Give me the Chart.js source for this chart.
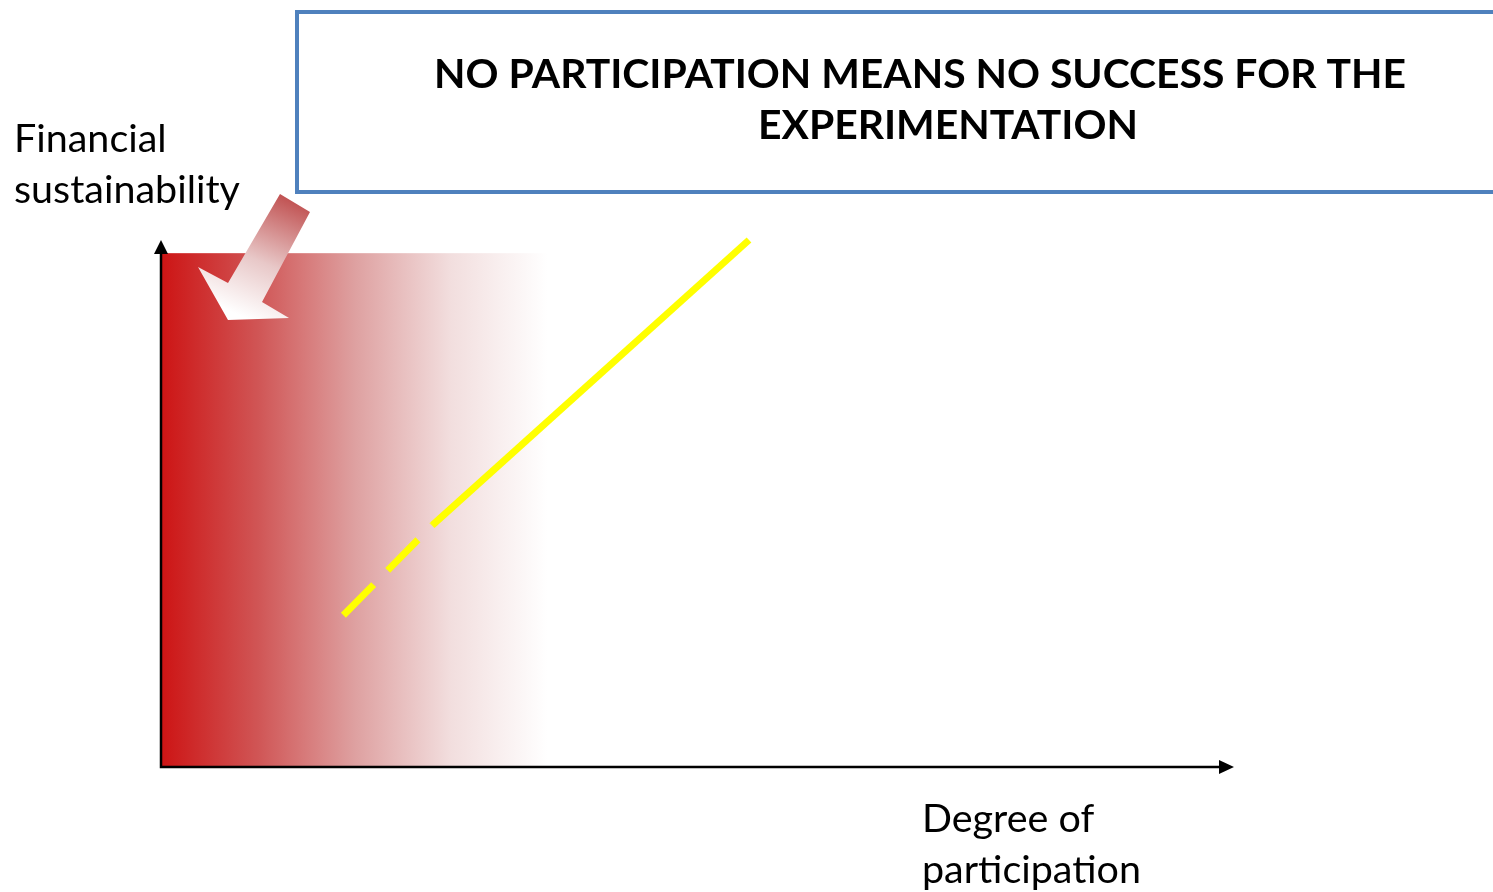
<!DOCTYPE html>
<html>
<head>
<meta charset="utf-8">
<script src="https://cdn.jsdelivr.net/npm/chart.js@4"></script>
<style>
  html, body { margin: 0; padding: 0; background: #fff; }
  .chart-container { position: relative; width: 1493px; height: 892px; }
</style>
</head>
<body>
<div class="chart-container">
  <canvas id="diagram"></canvas>
</div>
<script>
// axis values run 0..100 on both axes
const dashedX = [17.0, 25.3];
const dashedY = [28.8, 45.9];
const solidX = [25.3, 54.8];
const solidY = [45.9, 100];
const zoneX = [0, 36];      // red "no participation" zone
const zoneTop = 97.5;

const titleLines = ['NO PARTICIPATION MEANS NO SUCCESS FOR THE', 'EXPERIMENTATION'];
const yLabel = ['Financial', 'sustainability'];
const xLabel = ['Degree of', 'participation'];

const toPoints = (xs, ys) => xs.map((x, i) => ({ x: x, y: ys[i] }));

// font size that makes text span a given width
function fitFont(ctx, text, width, weight, family) {
  ctx.font = weight + ' 100px ' + family;
  return 100 * width / ctx.measureText(text).width;
}

const zonePlugin = {
  id: 'zone',
  beforeDatasetsDraw(chart) {
    const { ctx, scales: { x, y } } = chart;
    const x0 = x.getPixelForValue(zoneX[0]);
    const x1 = x.getPixelForValue(zoneX[1]);
    const y0 = y.getPixelForValue(zoneTop);
    const y1 = y.getPixelForValue(0);
    const g = ctx.createLinearGradient(x0, 0, x1, 0);
    g.addColorStop(0, 'rgb(205,20,20)');
    g.addColorStop(0.25, 'rgb(208,85,85)');
    g.addColorStop(0.5, 'rgb(222,160,160)');
    g.addColorStop(0.75, 'rgb(242,222,222)');
    g.addColorStop(1, 'rgb(255,255,255)');
    ctx.save();
    ctx.fillStyle = g;
    ctx.fillRect(x0, y0, x1 - x0, y1 - y0);
    ctx.restore();
  },
  afterDatasetsDraw(chart) {
    const { ctx, chartArea: a } = chart;
    ctx.save();
    // axes
    ctx.strokeStyle = '#000';
    ctx.fillStyle = '#000';
    ctx.lineWidth = 2.5;
    ctx.beginPath();
    ctx.moveTo(a.left, a.top + 12);
    ctx.lineTo(a.left, a.bottom);
    ctx.lineTo(a.right - 13, a.bottom);
    ctx.stroke();
    ctx.beginPath();
    ctx.moveTo(a.left, a.top);
    ctx.lineTo(a.left - 7, a.top + 14);
    ctx.lineTo(a.left + 7, a.top + 14);
    ctx.closePath();
    ctx.fill();
    ctx.beginPath();
    ctx.moveTo(a.right, a.bottom);
    ctx.lineTo(a.right - 15, a.bottom - 7);
    ctx.lineTo(a.right - 15, a.bottom + 7);
    ctx.closePath();
    ctx.fill();

    // pointer arrow towards the red zone
    const ox = a.left, oy = a.top;
    const g = ctx.createLinearGradient(ox + 135, oy - 40, ox + 85, oy + 78);
    g.addColorStop(0, 'rgb(192,80,80)');
    g.addColorStop(0.55, 'rgb(232,200,200)');
    g.addColorStop(1, 'rgb(255,255,255)');
    ctx.fillStyle = g;
    ctx.beginPath();
    ctx.moveTo(ox + 119, oy - 46);
    ctx.lineTo(ox + 149, oy - 28);
    ctx.lineTo(ox + 101, oy + 62);
    ctx.lineTo(ox + 128, oy + 78);
    ctx.lineTo(ox + 67, oy + 80);
    ctx.lineTo(ox + 37, oy + 27);
    ctx.lineTo(ox + 67, oy + 43);
    ctx.closePath();
    ctx.fill();

    // title box
    ctx.strokeStyle = '#4F81BD';
    ctx.lineWidth = 4;
    ctx.strokeRect(297, 12, 1400, 180);
    ctx.fillStyle = '#000';
    ctx.textAlign = 'center';
    ctx.textBaseline = 'alphabetic';
    const ts = fitFont(ctx, titleLines[0], 972, 'bold', 'Lato');
    ctx.font = 'bold ' + ts + 'px Lato';
    ctx.fillText(titleLines[0], 920, 88);
    ctx.fillText(titleLines[1], 948, 139);

    // axis labels
    ctx.textAlign = 'left';
    const ys = fitFont(ctx, yLabel[1], 226, 'normal', 'Lato');
    ctx.font = ys + 'px Lato';
    ctx.fillText(yLabel[0], 14, 152);
    ctx.fillText(yLabel[1], 14, 203);
    const xs = fitFont(ctx, xLabel[1], 219, 'normal', 'Lato');
    ctx.font = xs + 'px Lato';
    ctx.fillText(xLabel[0], 922, 832);
    ctx.fillText(xLabel[1], 922, 883);
    ctx.restore();
  }
};

new Chart(document.getElementById('diagram'), {
  type: 'scatter',
  data: {
    datasets: [
      {
        data: toPoints(dashedX, dashedY),
        showLine: true,
        borderColor: '#FFFF00',
        borderWidth: 7,
        borderDash: [43, 20],
        borderCapStyle: 'butt',
        pointRadius: 0,
        clip: false,
      },
      {
        data: toPoints(solidX, solidY),
        showLine: true,
        borderColor: '#FFFF00',
        borderWidth: 7,
        borderCapStyle: 'butt',
        pointRadius: 0,
        clip: false,
      },
    ],
  },
  options: {
    responsive: true,
    maintainAspectRatio: false,
    animation: false,
    layout: { padding: { left: 161, right: 259, top: 240, bottom: 125 } },
    scales: {
      x: { type: 'linear', min: 0, max: 100, display: false },
      y: { type: 'linear', min: 0, max: 100, display: false },
    },
    plugins: {
      legend: { display: false },
      tooltip: { enabled: false },
    },
  },
  plugins: [zonePlugin],
});
</script>
</body>
</html>
